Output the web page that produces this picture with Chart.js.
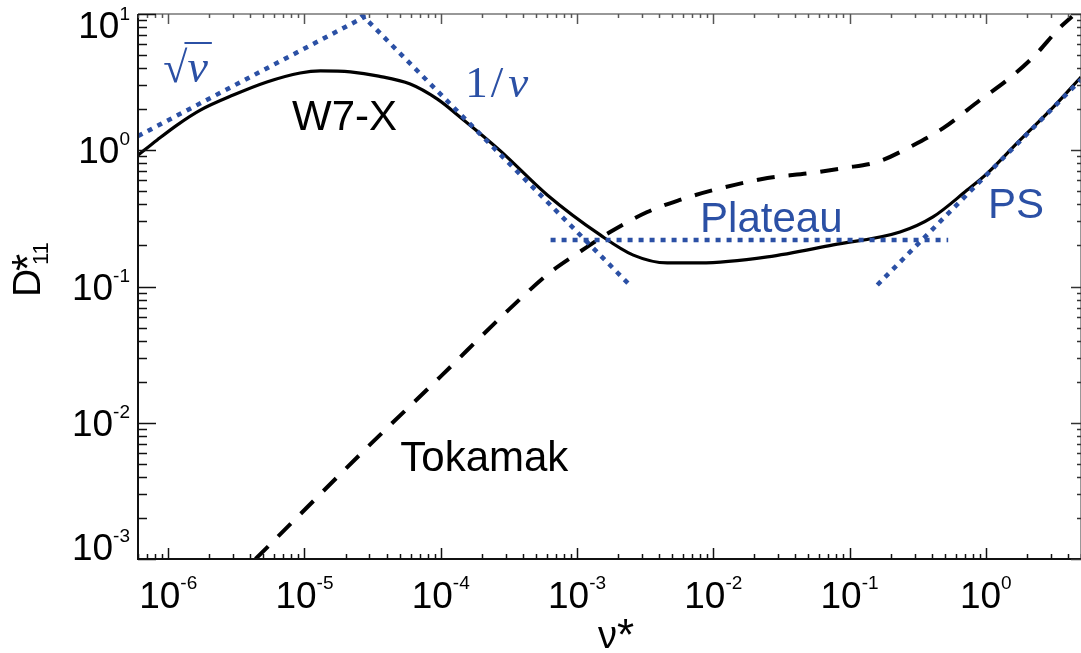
<!DOCTYPE html>
<html>
<head>
<meta charset="utf-8">
<title>D11* vs collisionality</title>
<script src="https://cdn.jsdelivr.net/npm/chart.js@4"></script>
<style>
  html, body { margin: 0; padding: 0; background: #fff; }
  #chart { display: block; }
</style>
</head>
<body>
<canvas id="chart" width="1081" height="653"></canvas>
<script>
// mono-energetic coefficient D11* against collisionality nu*
const w7xNu = [6.0e-7, 8.3e-7, 1.16e-6, 1.72e-6, 3.0e-6, 5.3e-6, 9.3e-6, 1.31e-5, 2.17e-5, 3.5e-5, 5.97e-5, 9.4e-5, 1.39e-4, 2.74e-4, 6.05e-4, 1.48e-3, 2.59e-3, 4.6e-3, 8.0e-3, 2.5e-2, 7.6e-2, 0.235, 0.41, 0.73, 1.03, 1.79, 3.13, 5.0];
const w7xD = [0.92, 1.19, 1.53, 1.97, 2.54, 3.17, 3.69, 3.82, 3.76, 3.5, 3.06, 2.38, 1.75, 0.99, 0.47, 0.239, 0.170, 0.149, 0.149, 0.165, 0.202, 0.251, 0.324, 0.51, 0.68, 1.19, 2.07, 3.45];

const tokNu = [4.37e-6, 3.16e-5, 1.0e-4, 3.16e-4, 6.3e-4, 1.0e-3, 1.75e-3, 3.28e-3, 5.7e-3, 1.0e-2, 2.5e-2, 5.15e-2, 9.0e-2, 0.16, 0.294, 0.49, 0.91, 1.44, 2.23, 3.52, 4.3];
const tokD = [1.0e-3, 7.2e-3, 0.0219, 0.0676, 0.126, 0.174, 0.251, 0.352, 0.432, 0.51, 0.625, 0.68, 0.74, 0.82, 1.09, 1.46, 2.34, 3.28, 4.83, 8.0, 9.6];

// asymptotic regimes
const sqrtNu = [6.0e-7, 2.8e-5];
const sqrtD = [1.27, 9.6];
const invNu = [2.6e-5, 2.5e-3];
const invD = [10, 0.1];
const plateauNu = [6.4e-4, 0.53];
const plateauD = [0.219, 0.219];
const psNu = [0.16, 5.0];
const psD = [0.1026, 3.3];

const xTickExps = [-6, -5, -4, -3, -2, -1, 0];
const yTickExps = [-3, -2, -1, 0, 1];

const blue = '#2b50a5';
const sans = '"Liberation Sans", Arial, sans-serif';
const serif = '"Liberation Serif", "DejaVu Serif", serif';

const pts = (nu, d) => nu.map((v, i) => ({ x: v, y: d[i] }));

const notes = [
  { text: 'W7-X', nu: 8.1e-6, d: 1.41, color: '#000' },
  { text: 'Tokamak', nu: 5.05e-5, d: 4.43e-3, color: '#000' },
  { text: 'Plateau', nu: 8.0e-3, d: 0.251, color: blue },
  { text: 'PS', nu: 1.04, d: 0.318, color: blue },
];

const logTicks = (scale) => {
  const out = [];
  const lo = Math.floor(Math.log10(scale.min));
  const hi = Math.ceil(Math.log10(scale.max));
  for (let e = lo; e <= hi; e++) {
    for (let m = 1; m <= 9; m++) {
      const v = m * Math.pow(10, e);
      if (v >= scale.min * 0.999 && v <= scale.max * 1.001) out.push({ v, major: m === 1 });
    }
  }
  return out;
};

const frame = {
  id: 'frame',
  afterDatasetsDraw(chart) {
    const { ctx, chartArea: a, scales: { x, y } } = chart;
    ctx.save();
    ctx.lineCap = 'butt';

    ctx.strokeStyle = '#777';
    ctx.lineWidth = 1.5;
    ctx.beginPath();
    ctx.moveTo(a.left, a.top);
    ctx.lineTo(a.right, a.top);
    ctx.lineTo(a.right, a.bottom);
    ctx.stroke();
    ctx.strokeStyle = '#111';
    ctx.lineWidth = 2;
    ctx.beginPath();
    ctx.moveTo(a.left, a.top);
    ctx.lineTo(a.left, a.bottom);
    ctx.lineTo(a.right, a.bottom);
    ctx.stroke();

    // inward ticks on all four sides
    ctx.lineWidth = 1.5;
    logTicks(x).forEach((t) => {
      const px = Math.round(x.getPixelForValue(t.v)) + 0.5;
      ctx.strokeStyle = '#111';
      ctx.beginPath();
      ctx.moveTo(px, a.bottom);
      ctx.lineTo(px, a.bottom - (t.major ? 11 : 5));
      ctx.stroke();
      ctx.strokeStyle = '#555';
      ctx.beginPath();
      ctx.moveTo(px, a.top);
      ctx.lineTo(px, a.top + (t.major ? 10 : 4));
      ctx.stroke();
    });
    logTicks(y).forEach((t) => {
      const py = Math.round(y.getPixelForValue(t.v)) + 0.5;
      ctx.strokeStyle = '#111';
      ctx.beginPath();
      ctx.moveTo(a.left, py);
      ctx.lineTo(a.left + (t.major ? 18 : 9), py);
      ctx.stroke();
      ctx.strokeStyle = '#333';
      ctx.beginPath();
      ctx.moveTo(a.right, py);
      ctx.lineTo(a.right - (t.major ? 10 : 4), py);
      ctx.stroke();
    });

    // power-of-ten tick labels
    ctx.fillStyle = '#000';
    ctx.textBaseline = 'alphabetic';
    ctx.textAlign = 'left';
    const base = '37px ' + sans;
    const sup = '19px ' + sans;
    xTickExps.forEach((e) => {
      const px = x.getPixelForValue(Math.pow(10, e));
      ctx.font = base;
      const wb = ctx.measureText('10').width;
      ctx.font = sup;
      const we = ctx.measureText(String(e)).width;
      const left = px - (wb + we) / 2;
      ctx.font = base;
      ctx.fillText('10', left, 608);
      ctx.font = sup;
      ctx.fillText(String(e), left + wb, 589);
    });
    yTickExps.forEach((e) => {
      const py = y.getPixelForValue(Math.pow(10, e));
      const cy = Math.min(Math.max(py, a.top + 11), a.bottom - 12);
      ctx.font = base;
      const wb = ctx.measureText('10').width;
      ctx.font = sup;
      const we = ctx.measureText(String(e)).width;
      const left = 130 - wb - we;
      ctx.font = base;
      ctx.fillText('10', left, cy + 13);
      ctx.font = sup;
      ctx.fillText(String(e), left + wb, cy - 5);
    });

    // axis titles
    ctx.font = '38px ' + sans;
    ctx.fillText('\u03bd', 598, 648);
    ctx.font = '44px ' + sans;
    ctx.fillText('*', 617, 650);

    ctx.save();
    ctx.translate(40, 297);
    ctx.rotate(-Math.PI / 2);
    ctx.font = '39px ' + sans;
    ctx.fillText('D', 0, 0);
    ctx.font = '44px ' + sans;
    ctx.fillText('*', 26, 3);
    ctx.font = '22px ' + sans;
    ctx.fillText('11', 32, 8);
    ctx.restore();

    // regime labels
    ctx.font = '42px ' + sans;
    notes.forEach((n) => {
      ctx.fillStyle = n.color;
      ctx.fillText(n.text, x.getPixelForValue(n.nu), y.getPixelForValue(n.d));
    });

    ctx.fillStyle = blue;
    ctx.strokeStyle = blue;
    // sqrt(nu)
    let sx = x.getPixelForValue(9.2e-7);
    let sy = y.getPixelForValue(3.17);
    ctx.font = '44px ' + serif;
    ctx.fillText('\u221a', sx, sy);
    const wr = ctx.measureText('\u221a').width;
    ctx.font = 'italic 46px ' + serif;
    ctx.fillText('\u03bd', sx + wr, sy);
    const wn = ctx.measureText('\u03bd').width;
    ctx.lineWidth = 2;
    ctx.beginPath();
    ctx.moveTo(sx + wr - 3, sy - 39);
    ctx.lineTo(sx + wr + wn + 4, sy - 39);
    ctx.stroke();
    // 1/nu
    sx = x.getPixelForValue(1.51e-4);
    sy = y.getPixelForValue(2.46);
    ctx.font = '45px ' + serif;
    ctx.fillText('1', sx, sy);
    const w1 = ctx.measureText('1').width;
    ctx.fillText('/', sx + w1 + 3, sy);
    const ws = ctx.measureText('/').width;
    ctx.font = 'italic 45px ' + serif;
    ctx.fillText('\u03bd', sx + w1 + ws + 8, sy);

    ctx.restore();
  },
};

const dotted = (nu, d) => ({
  data: pts(nu, d),
  borderColor: blue,
  borderWidth: 4.5,
  borderDash: [5, 6],
  borderCapStyle: 'butt',
});

new Chart(document.getElementById('chart'), {
  type: 'scatter',
  data: {
    datasets: [
      dotted(sqrtNu, sqrtD),
      dotted(invNu, invD),
      dotted(plateauNu, plateauD),
      dotted(psNu, psD),
      {
        label: 'Tokamak',
        data: pts(tokNu, tokD),
        borderColor: '#000',
        borderWidth: 4,
        borderDash: [18, 14],
        cubicInterpolationMode: 'monotone',
      },
      {
        label: 'W7-X',
        data: pts(w7xNu, w7xD),
        borderColor: '#000',
        borderWidth: 3.2,
        cubicInterpolationMode: 'monotone',
      },
    ],
  },
  options: {
    responsive: false,
    animation: false,
    devicePixelRatio: 1,
    showLine: true,
    elements: { point: { radius: 0, hoverRadius: 0 } },
    layout: { padding: { left: 138, top: 14, right: 0, bottom: 94 } },
    plugins: { legend: { display: false }, tooltip: { enabled: false } },
    scales: {
      x: { type: 'logarithmic', min: 6e-7, max: 5, display: false },
      y: { type: 'logarithmic', min: 1e-3, max: 10, display: false },
    },
  },
  plugins: [frame],
});
</script>
</body>
</html>
